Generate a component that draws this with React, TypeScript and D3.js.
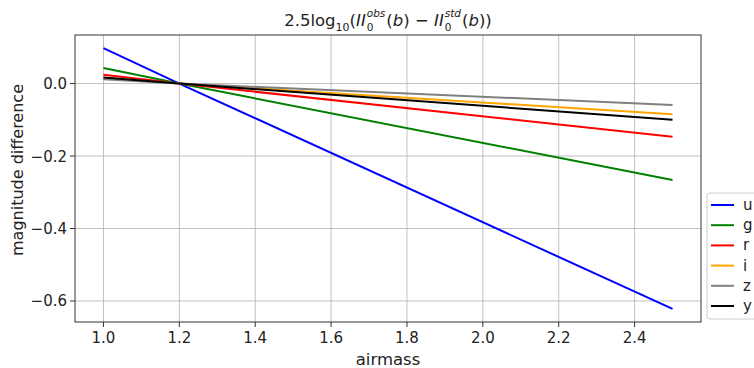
import React, { useEffect, useRef } from 'react';
import * as d3 from 'd3';

// airmass samples and magnitude differences per band
const airmass = [1.0, 1.2, 2.5];
const bands = ['u', 'g', 'r', 'i', 'z', 'y'];
const uVals = [0.098, 0.0, -0.622];
const gVals = [0.043, 0.0, -0.266];
const rVals = [0.024, 0.0, -0.147];
const iVals = [0.015, 0.0, -0.085];
const zVals = [0.012, 0.0, -0.059];
const yVals = [0.017, 0.0, -0.1];
const colors = ['#0000ff', '#008000', '#ff0000', '#ffa500', '#808080', '#000000'];
const xTicks = [1.0, 1.2, 1.4, 1.6, 1.8, 2.0, 2.2, 2.4];
const yTicks = [0.0, -0.2, -0.4, -0.6];

const W = 754;
const H = 368;
const FONT = 'DejaVu Sans, sans-serif';

const App = () => {
  const ref = useRef<SVGSVGElement>(null);

  useEffect(() => {
    document.body.style.margin = '0';
    const svg = d3.select(ref.current);
    svg.selectAll('*').remove();

    const left = 75, right = 701, top = 35, bottom = 322;
    const x = d3.scaleLinear().domain([0.925, 2.575]).range([left, right]);
    const y = d3.scaleLinear().domain([-0.658, 0.134]).range([bottom, top]);

    const series = [uVals, gVals, rVals, iVals, zVals, yVals];

    // grid
    svg.append('g').selectAll('line').data(xTicks).enter().append('line')
      .attr('x1', d => x(d)).attr('x2', d => x(d))
      .attr('y1', top).attr('y2', bottom)
      .attr('stroke', '#b0b0b0').attr('stroke-width', 0.8);
    svg.append('g').selectAll('line').data(yTicks).enter().append('line')
      .attr('y1', d => y(d)).attr('y2', d => y(d))
      .attr('x1', left).attr('x2', right)
      .attr('stroke', '#b0b0b0').attr('stroke-width', 0.8);

    // lines
    const line = d3.line<number>()
      .x((_, k) => x(airmass[k]))
      .y(d => y(d));
    series.forEach((s, k) => {
      svg.append('path')
        .attr('d', line(s) as string)
        .attr('fill', 'none')
        .attr('stroke', colors[k])
        .attr('stroke-width', 2);
    });

    // spines
    svg.append('rect')
      .attr('x', left).attr('y', top)
      .attr('width', right - left).attr('height', bottom - top)
      .attr('fill', 'none').attr('stroke', '#333').attr('stroke-width', 1);

    // x ticks
    const xg = svg.append('g');
    xTicks.forEach(t => {
      xg.append('line').attr('x1', x(t)).attr('x2', x(t))
        .attr('y1', bottom).attr('y2', bottom + 5)
        .attr('stroke', '#333');
      xg.append('text').attr('x', x(t)).attr('y', bottom + 21)
        .attr('text-anchor', 'middle')
        .attr('font-family', FONT).attr('font-size', 15)
        .attr('fill', '#222')
        .text(d3.format('.1f')(t));
    });

    // y ticks
    const yg = svg.append('g');
    yTicks.forEach(t => {
      yg.append('line').attr('x1', left - 5).attr('x2', left)
        .attr('y1', y(t)).attr('y2', y(t))
        .attr('stroke', '#333');
      yg.append('text').attr('x', left - 8).attr('y', y(t) + 5.5)
        .attr('text-anchor', 'end')
        .attr('font-family', FONT).attr('font-size', 15)
        .attr('fill', '#222')
        .text(t === 0 ? '0.0' : '\u2212' + d3.format('.1f')(-t));
    });

    // axis labels
    svg.append('text')
      .attr('x', (left + right) / 2).attr('y', 365)
      .attr('text-anchor', 'middle')
      .attr('font-family', FONT).attr('font-size', 16.5).attr('fill', '#222')
      .text('airmass');
    svg.append('text')
      .attr('transform', `translate(23,170) rotate(-90)`)
      .attr('text-anchor', 'middle')
      .attr('font-family', FONT).attr('font-size', 16).attr('fill', '#222')
      .text('magnitude difference');

    // title with math-like pieces
    const tg = svg.append('g');
    let cx = 0;
    const base = 26;
    const piece = (txt: string, opts: { size?: number; italic?: boolean; dy?: number; advance?: boolean } = {}) => {
      const t = tg.append('text')
        .attr('x', cx).attr('y', base + (opts.dy || 0))
        .attr('font-family', FONT)
        .attr('font-size', opts.size || 16.5)
        .attr('font-style', opts.italic ? 'italic' : 'normal')
        .attr('fill', '#222')
        .style('white-space', 'pre')
        .text(txt);
      const w = (t.node() as SVGTextElement).getComputedTextLength();
      if (opts.advance !== false) cx += w;
      return w;
    };
    const stack = (sup: string) => {
      const start = cx;
      const w1 = piece(sup, { size: 10.5, italic: true, dy: -9, advance: false });
      cx = start;
      const w2 = piece('0', { size: 10.5, dy: 5, advance: false });
      cx = start + Math.max(w1, w2) + 1;
    };
    piece('2.5log');
    piece('10', { size: 11, dy: 4.5 });
    piece('(');
    piece('II', { italic: true });
    cx += 1;
    stack('obs');
    piece('(');
    piece('b', { italic: true });
    piece(')');
    piece(' \u2212 ');
    piece('II', { italic: true });
    cx += 1;
    stack('std');
    piece('(');
    piece('b', { italic: true });
    piece('))');
    tg.attr('transform', `translate(${(left + right) / 2 - cx / 2},0)`);

    // legend
    const lx = 707, ly = 193, rowH = 20.2;
    svg.append('rect')
      .attr('x', lx).attr('y', ly)
      .attr('width', 60).attr('height', 126)
      .attr('rx', 3)
      .attr('fill', 'white').attr('fill-opacity', 0.8)
      .attr('stroke', '#cccccc');
    bands.forEach((b, k) => {
      const yy = ly + 12 + k * rowH;
      svg.append('line')
        .attr('x1', lx + 4).attr('x2', lx + 27)
        .attr('y1', yy).attr('y2', yy)
        .attr('stroke', colors[k]).attr('stroke-width', 2);
      svg.append('text')
        .attr('x', lx + 36).attr('y', yy + 5)
        .attr('font-family', FONT).attr('font-size', 15).attr('fill', '#222')
        .text(b);
    });
  }, []);

  return <svg ref={ref} width={W} height={H} style={{ display: 'block' }} />;
};

export default App;
